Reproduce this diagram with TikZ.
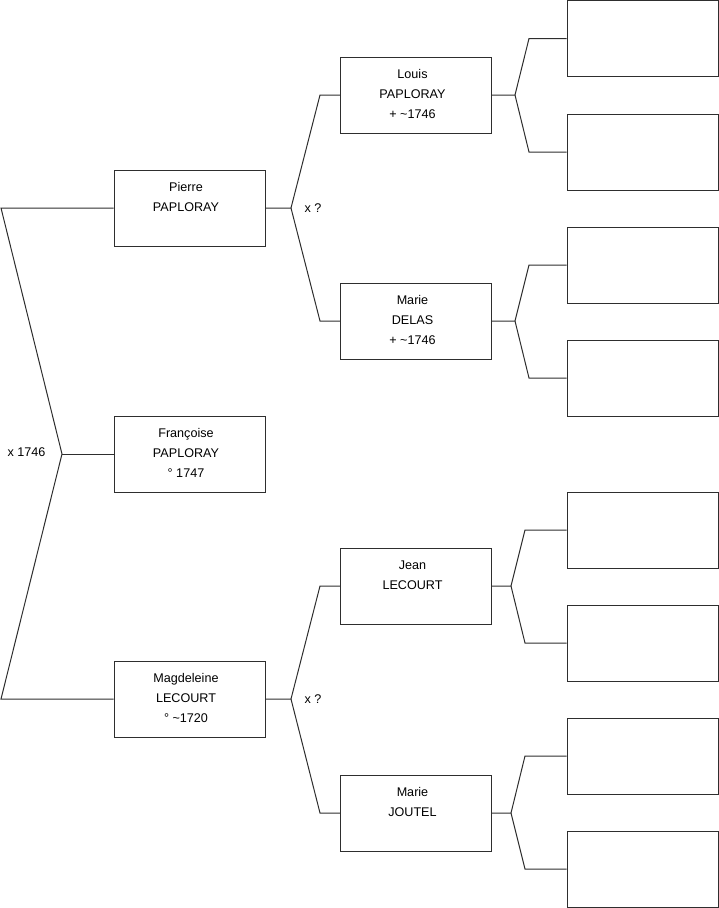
\documentclass[tikz,border=0pt]{standalone}
\usepackage{fontspec}
\setmainfont{Liberation Sans}
\definecolor{trait}{HTML}{2E2E2E}

\begin{document}
\begin{tikzpicture}[x=1pt,y=-1pt,line width=1pt,
  fiche/.style={draw=trait,minimum width=151pt,minimum height=76pt,inner sep=0pt},
  nom/.style={anchor=north,inner sep=0pt,xshift=-3.5pt,yshift=-12.4pt,align=center,font=\fontsize{12.6}{20}\selectfont},
  noce/.style={inner sep=0pt,font=\fontsize{12.6}{15}\selectfont}]
  \useasboundingbox (0,0) rectangle (719,908);
  % generation 1
  \node[fiche,label={[nom]north:Pierre\\PAPLORAY}] (pierre) at (189.5,208) {};
  \node[fiche,label={[nom]north:Françoise\\PAPLORAY\\° 1747}] (francoise) at (189.5,454) {};
  \node[fiche,label={[nom]north:Magdeleine\\LECOURT\\° \textasciitilde1720}] (magdeleine) at (189.5,699) {};
  % generation 2
  \node[fiche,label={[nom]north:Louis\\PAPLORAY\\+ \textasciitilde1746}] (louis) at (416,95) {};
  \node[fiche,label={[nom]north:Marie\\DELAS\\+ \textasciitilde1746}] (delas) at (416,321) {};
  \node[fiche,label={[nom]north:Jean\\LECOURT}] (jean) at (416,586) {};
  \node[fiche,label={[nom]north:Marie\\JOUTEL}] (joutel) at (416,813) {};
  % generation 3, empty
  \foreach \i/\y in {1/38.5,2/152,3/265,4/378,5/530,6/643,7/756,8/869}
    \node[fiche] (a\i) at (642.5,\y) {};
  % junctions
  \coordinate (m0) at (62,454);
  \coordinate (m1) at (291,208);
  \coordinate (m2) at (291,699);
  \coordinate (m3) at (515,95);
  \coordinate (m4) at (515,321);
  \coordinate (m5) at (511,586);
  \coordinate (m6) at (511,813);
  \draw[trait] (pierre.west) -- (pierre.west -| 1,0) -- (m0)
    -- (magdeleine.west -| 1,0) -- (magdeleine.west);
  \draw[trait] (m0) -- (francoise.west);
  \node[noce,anchor=east] (x0) at ([xshift=-16pt,yshift=2pt]m0) {x 1746};
  \draw[trait] (pierre.east) -- (m1) -- (louis.west -| 320,0) -- (louis.west);
  \draw[trait] (m1) -- (delas.west -| 320,0) -- (delas.west);
  \node[noce,anchor=west] (x1) at ([xshift=13pt]m1) {x ?};
  \draw[trait] (magdeleine.east) -- (m2) -- (jean.west -| 320,0) -- (jean.west);
  \draw[trait] (m2) -- (joutel.west -| 320,0) -- (joutel.west);
  \node[noce,anchor=west] (x2) at ([xshift=13pt]m2) {x ?};
  \draw[trait] (louis.east) -- (m3) -- (a1.west -| 529,0) -- (a1.west);
  \draw[trait] (m3) -- (a2.west -| 529,0) -- (a2.west);
  \draw[trait] (delas.east) -- (m4) -- (a3.west -| 529,0) -- (a3.west);
  \draw[trait] (m4) -- (a4.west -| 529,0) -- (a4.west);
  \draw[trait] (jean.east) -- (m5) -- (a5.west -| 525,0) -- (a5.west);
  \draw[trait] (m5) -- (a6.west -| 525,0) -- (a6.west);
  \draw[trait] (joutel.east) -- (m6) -- (a7.west -| 525,0) -- (a7.west);
  \draw[trait] (m6) -- (a8.west -| 525,0) -- (a8.west);
\end{tikzpicture}
\end{document}
